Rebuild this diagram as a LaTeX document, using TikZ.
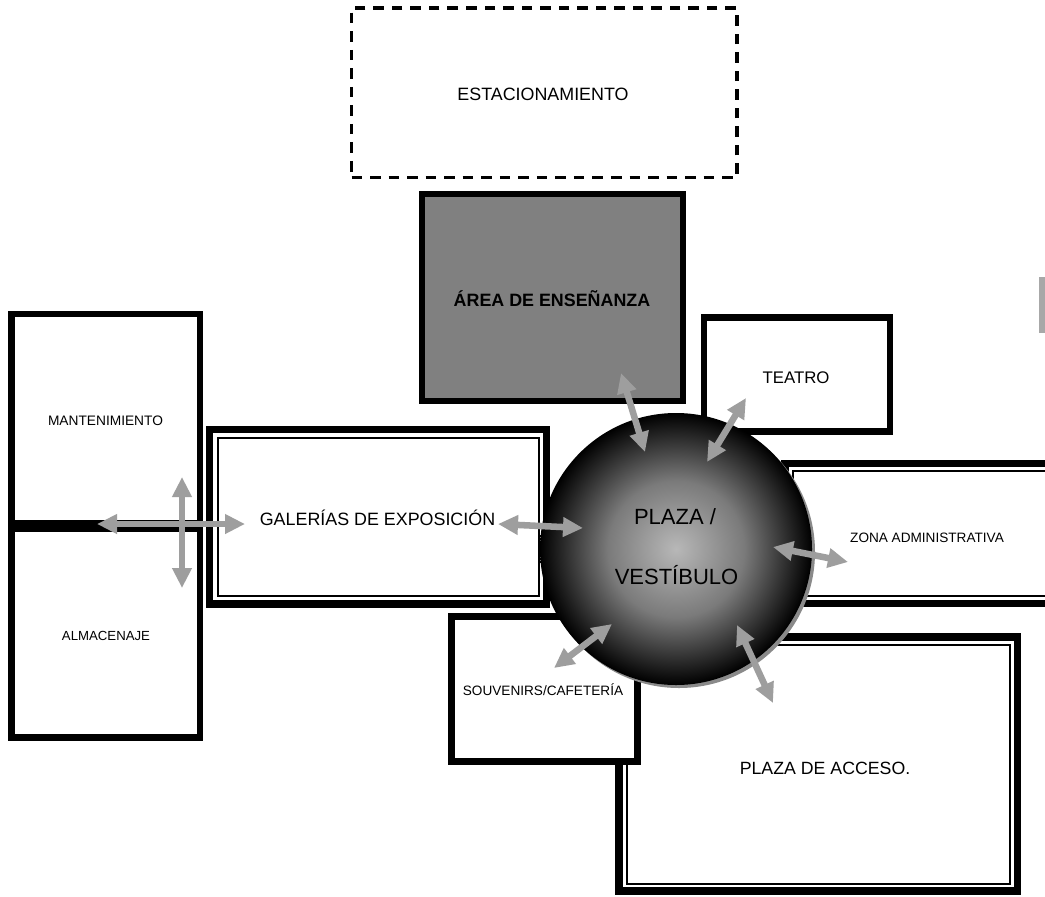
\documentclass[tikz,border=0pt]{standalone}
\usepackage{fontspec}
\setmainfont{Liberation Sans}
\usetikzlibrary{fit,calc,arrows.meta}
\definecolor{arrowgray}{RGB}{158,158,158}
\definecolor{areagray}{RGB}{128,128,128}
\definecolor{rimgray}{RGB}{138,138,138}
\definecolor{bargray}{RGB}{168,168,168}
\pgfdeclareradialshading{ballshade}{\pgfpoint{0bp}{0bp}}{color(0bp)=(black!28); color(12.5bp)=(black!52); color(25bp)=(black); color(50bp)=(black)}
\begin{document}
\begin{tikzpicture}[x=0.75pt,y=-0.75pt,
  room/.style={draw=black, line width=4.9pt, fill=white, inner sep=0pt, outer sep=0pt},
  hallroom/.style={draw=black, line width=5.6pt, fill=white, inner sep=0pt, outer sep=0pt},
  innerline/.style={draw=black, line width=1.5pt},
  dashroom/.style={draw=black, line width=2.5pt, dash pattern=on 7.9pt off 6pt, inner sep=0pt, outer sep=0pt},
  flow/.style={draw=arrowgray, line width=4.9pt, >={Triangle[length=15pt,width=14pt]}, <->},
  lab/.style={anchor=base, inner sep=0pt, text=black},
]
\useasboundingbox (0,0) rectangle (1045,896);
\fill[white] (0,0) rectangle (1045,896);

% rooms
\node[dashroom, fit={(351.5,8) (737,177.5)}] (estac) {};
\node[room, fill=areagray, fit={(422,194) (683,401)}] (area) {};
\node[room, fit={(11.5,314) (200,523.3)}] (mant) {};
\node[room, fit={(11.5,528.7) (200,737.5)}] (alma) {};
\node[hallroom, fit={(209.5,429.5) (546.5,604)}] (gal) {};
\draw[innerline] ($(gal.north west)+(8,8)$) rectangle ($(gal.south east)+(-8,-8)$);
\node[room, fit={(704,317.5) (890,431.5)}] (teatro) {};
\node[hallroom, fit={(785,463.5) (1075,603.5)}] (zona) {};
\draw[innerline] ($(zona.north west)+(8,7.5)$) rectangle ($(zona.south east)+(-8,-7.5)$);
\node[hallroom, fit={(619,637) (1017.5,891)}] (acceso) {};
\draw[innerline] ($(acceso.north west)+(7.5,7.5)$) rectangle ($(acceso.south east)+(-8,-7.5)$);
\node[room, fit={(451.5,616.5) (637.5,761.5)}] (souv) {};

\fill[bargray] (1039,277) rectangle (1045,333);

% central plaza
\fill[rimgray] (679,552) circle[radius=136];
\node[circle, inner sep=0pt, minimum size=204pt, shading=ballshade] (plaza) at (676,549) {};

% arrow ends
\coordinate (mantL) at (97,524);
\coordinate (galL) at (245,524);
\coordinate (vtop) at (182,477);
\coordinate (vbot) at (182,588);
\coordinate (galR) at (498,524);
\coordinate (plW) at (583,528);
\coordinate (areaA) at (621,373);
\coordinate (plN) at (645,452);
\coordinate (teaA) at (746,398);
\coordinate (plNE) at (707,462);
\coordinate (zonA) at (848,562);
\coordinate (plE) at (773,547);
\coordinate (souA) at (554,668);
\coordinate (plSW) at (612,624);
\coordinate (accA) at (773,703);
\coordinate (plSE) at (737,625);

\draw[flow] (mantL) -- (galL);
\draw[flow] (vtop) -- (vbot);
\draw[flow] (galR) -- (plW);
\draw[flow] (areaA) -- (plN);
\draw[flow] (teaA) -- (plNE);
\draw[flow] (zonA) -- (plE);
\draw[flow] (souA) -- (plSW);
\draw[flow] (accA) -- (plSE);

% labels
\node[lab, font=\fontsize{13.4}{16}\selectfont] (estac-t) at (543,100.4) {ESTACIONAMIENTO};
\node[lab, font=\bfseries\fontsize{13.4}{16}\selectfont] (area-t) at (552,306) {ÁREA DE ENSEÑANZA};
\node[lab, font=\fontsize{10.3}{12}\selectfont] (mant-t) at (105.5,425) {MANTENIMIENTO};
\node[lab, font=\fontsize{9.9}{12}\selectfont] (alma-t) at (106,640) {ALMACENAJE};
\node[lab, font=\fontsize{13.4}{16}\selectfont] (gal-t) at (377.5,525) {GALERÍAS DE EXPOSICIÓN};
\node[lab, font=\fontsize{12.6}{15}\selectfont] (teatro-t) at (796,383) {TEATRO};
\node[lab, font=\fontsize{16.5}{20}\selectfont] (plaza-t1) at (675,524.4) {PLAZA /};
\node[lab, font=\fontsize{16.5}{20}\selectfont] (plaza-t2) at (676.5,584) {VESTÍBULO};
\node[lab, font=\fontsize{10.2}{12}\selectfont] (zona-t) at (927,542) {ZONA ADMINISTRATIVA};
\node[lab, font=\fontsize{10.2}{12}\selectfont] (souv-t) at (543,695) {SOUVENIRS/CAFETERÍA};
\node[lab, font=\fontsize{13.3}{16}\selectfont] (acceso-t) at (825,774) {PLAZA DE ACCESO.};
\end{tikzpicture}
\end{document}
